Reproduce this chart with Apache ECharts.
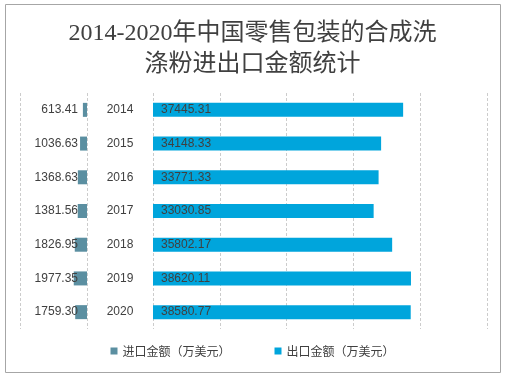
<!DOCTYPE html>
<html>
<head>
<meta charset="utf-8">
<script src="https://cdn.jsdelivr.net/npm/echarts@6/dist/echarts.min.js"></script>
<style>
  html, body { margin: 0; padding: 0; background: #fff; }
  #main { width: 505px; height: 377px; }
</style>
</head>
<body>
<div id="main"></div>
<script>
const years = ['2014', '2015', '2016', '2017', '2018', '2019', '2020']
const importValues = [613.41, 1036.63, 1368.63, 1381.56, 1826.95, 1977.35, 1759.30]
const exportValues = [37445.31, 34148.33, 33771.33, 33030.85, 35802.17, 38620.11, 38580.77]
const importName = '进口金额（万美元）'
const exportName = '出口金额（万美元）'

const IMPORT_COLOR = '#5b8fa1'
const EXPORT_COLOR = '#00a5dc'
const TEXT_COLOR = '#404040'

const chart = echarts.init(document.getElementById('main'))

const dashed = { show: true, lineStyle: { color: '#cccccc', type: [3, 2], width: 1 } }

chart.setOption({
  animation: false,
  title: {
    text: '2014-2020年中国零售包装的合成洗\n涤粉进出口金额统计',
    left: 'center',
    top: 13,
    textStyle: {
      fontFamily: '"Liberation Serif", "DejaVu Serif", "Noto Sans CJK SC", serif',
      fontSize: 24,
      fontWeight: 'normal',
      lineHeight: 31,
      color: '#404040'
    }
  },
  graphic: [{
    type: 'rect',
    shape: { x: 5.5, y: 4.5, width: 495, height: 368 },
    style: { fill: null, stroke: '#a6a6a6', lineWidth: 1 },
    silent: true
  }],
  legend: {
    bottom: 15,
    left: 'center',
    itemWidth: 7,
    itemHeight: 7,
    itemGap: 44,
    icon: 'rect',
    textStyle: { color: TEXT_COLOR, fontSize: 12, fontFamily: '"Noto Sans CJK SC", sans-serif' },
    data: [importName, exportName]
  },
  grid: [
    { left: 20, width: 67, top: 93, height: 236 },
    { left: 153, width: 334, top: 93, height: 236 }
  ],
  xAxis: [
    {
      type: 'value', gridIndex: 0, min: 0, max: 10000, interval: 10000, inverse: true,
      axisLabel: { show: false }, axisLine: { show: false }, axisTick: { show: false },
      splitLine: dashed
    },
    {
      type: 'value', gridIndex: 1, min: 0, max: 50000, interval: 10000,
      axisLabel: { show: false }, axisLine: { show: false }, axisTick: { show: false },
      splitLine: dashed
    }
  ],
  yAxis: [
    {
      type: 'category', gridIndex: 0, data: years, inverse: true, position: 'right',
      axisLabel: { show: false }, axisLine: { show: false }, axisTick: { show: false }
    },
    {
      type: 'category', gridIndex: 1, data: years, inverse: true,
      axisLine: { show: false }, axisTick: { show: false },
      axisLabel: {
        color: TEXT_COLOR, fontSize: 12, align: 'center', margin: 33,
        fontFamily: '"Liberation Sans", Arial, sans-serif'
      }
    }
  ],
  series: [
    {
      name: importName,
      type: 'bar',
      xAxisIndex: 0, yAxisIndex: 0,
      data: importValues,
      barWidth: 14,
      itemStyle: { color: IMPORT_COLOR },
      label: {
        show: true,
        position: 'insideRight',
        distance: 9,
        color: TEXT_COLOR,
        fontSize: 12,
        fontFamily: '"Liberation Sans", Arial, sans-serif',
        formatter: p => p.value.toFixed(2)
      }
    },
    {
      name: exportName,
      type: 'bar',
      xAxisIndex: 1, yAxisIndex: 1,
      data: exportValues,
      barWidth: 14,
      itemStyle: { color: EXPORT_COLOR },
      label: {
        show: true,
        position: 'insideLeft',
        distance: 8,
        color: TEXT_COLOR,
        fontSize: 12,
        fontFamily: '"Liberation Sans", Arial, sans-serif',
        formatter: p => p.value.toFixed(2)
      }
    }
  ]
})
</script>
</body>
</html>
